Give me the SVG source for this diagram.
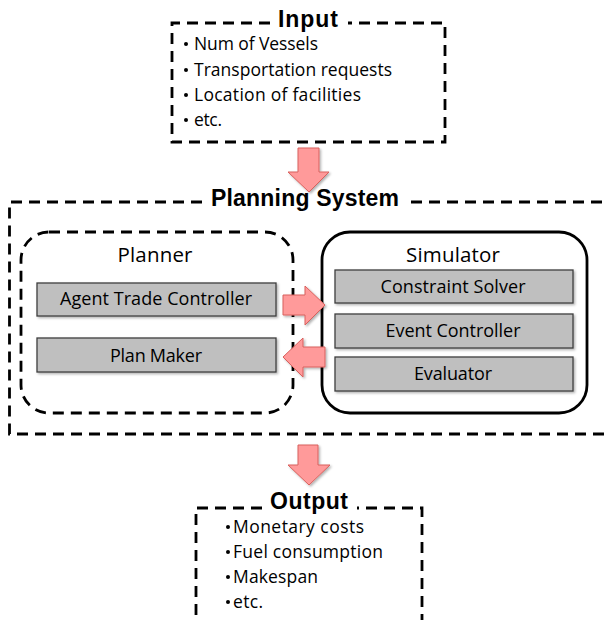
<svg xmlns="http://www.w3.org/2000/svg" width="605" height="620" viewBox="0 0 605 620">
<defs>
<filter id="sh" x="-10%" y="-20%" width="130%" height="150%">
<feDropShadow dx="1.5" dy="1.5" stdDeviation="1" flood-color="#000" flood-opacity="0.3"/>
</filter>
<style>
.dash{fill:none;stroke:#000;stroke-width:2.8;stroke-dasharray:11 7}
.solid{fill:none;stroke:#000;stroke-width:2.8}
.title{font-family:"Liberation Sans",Arial,sans-serif;font-weight:bold;font-size:23px;fill:#000;text-anchor:middle}
.item{font-family:"Open Sans","Noto Sans",sans-serif;font-size:17.5px;fill:#000}
.head{font-family:"Open Sans","Noto Sans",sans-serif;font-size:20.5px;fill:#000;text-anchor:middle}
.lbl{font-family:"Open Sans","Noto Sans",sans-serif;font-size:18px;fill:#000;text-anchor:middle}
.box{fill:#bfbfbf;stroke:#3f3f3f;stroke-width:1.3;filter:url(#sh)}
.arr{fill:#ff9a9a;stroke:#d9605c;stroke-width:1;filter:url(#sh)}
.bul{fill:#000}
</style>
</defs>

<g id="input">
<path class="dash" d="M270 23 H172 V142 H445 V23 H348"/>
<text class="title" x="308" y="27" textLength="60">Input</text>
<circle class="bul" cx="186" cy="44" r="2"/>
<text class="item" x="194" y="50" textLength="124">Num of Vessels</text>
<circle class="bul" cx="186" cy="70" r="2"/>
<text class="item" x="194" y="76" textLength="198">Transportation requests</text>
<circle class="bul" cx="186" cy="95" r="2"/>
<text class="item" x="194" y="101" textLength="167">Location of facilities</text>
<circle class="bul" cx="186" cy="120" r="2"/>
<text class="item" x="194" y="126" textLength="28">etc.</text>
</g>

<g id="planning-system">
<path class="dash" d="M202 202 H9.5 V434 H620 M620 202 H408"/>
<text class="title" x="305" y="206" textLength="188">Planning System</text>
</g>

<g id="planner">
<rect class="dash" x="21" y="232" width="272" height="181" rx="28"/>
<text class="head" x="155" y="262" textLength="75">Planner</text>
</g>

<g id="agent-trade-controller">
<rect class="box" x="37" y="283" width="239" height="33"/>
<text class="lbl" x="156" y="305" textLength="192">Agent Trade Controller</text>
</g>

<g id="plan-maker">
<rect class="box" x="37" y="338" width="239" height="34"/>
<text class="lbl" x="156" y="362" textLength="92">Plan Maker</text>
</g>

<g id="simulator">
<rect class="solid" x="322" y="232" width="265" height="181" rx="28"/>
<text class="head" x="453" y="262" textLength="94">Simulator</text>
</g>

<g id="constraint-solver">
<rect class="box" x="335" y="270" width="238" height="33"/>
<text class="lbl" x="453" y="293" textLength="145">Constraint Solver</text>
</g>

<g id="event-controller">
<rect class="box" x="335" y="314" width="238" height="34"/>
<text class="lbl" x="453" y="337" textLength="135">Event Controller</text>
</g>

<g id="evaluator">
<rect class="box" x="335" y="357" width="238" height="34"/>
<text class="lbl" x="453" y="380" textLength="78">Evaluator</text>
</g>

<g id="output">
<path class="dash" d="M262 508 H196 V625 M422 625 V508 H357"/>
<text class="title" x="309" y="509" textLength="78">Output</text>
<circle class="bul" cx="228" cy="527" r="2"/>
<text class="item" x="233" y="533" textLength="131">Monetary costs</text>
<circle class="bul" cx="228" cy="552" r="2"/>
<text class="item" x="233" y="558" textLength="150">Fuel consumption</text>
<circle class="bul" cx="228" cy="577" r="2"/>
<text class="item" x="233" y="583" textLength="85">Makespan</text>
<circle class="bul" cx="228" cy="602" r="2"/>
<text class="item" x="233" y="608" textLength="30">etc.</text>
</g>

<g id="connectors">
<path class="arr" d="M298 148 H319 V172 H329 L309 192 L288 172 H298 Z"/>
<path class="arr" d="M283 295 H305 V286 L325 305 L305 325 V315 H283 Z"/>
<path class="arr" d="M325 347 H303 V338 L283 357 L303 377 V367 H325 Z"/>
<path class="arr" d="M298 445 H318 V465 H330 L309 485 L288 465 H298 Z"/>
</g>
</svg>
